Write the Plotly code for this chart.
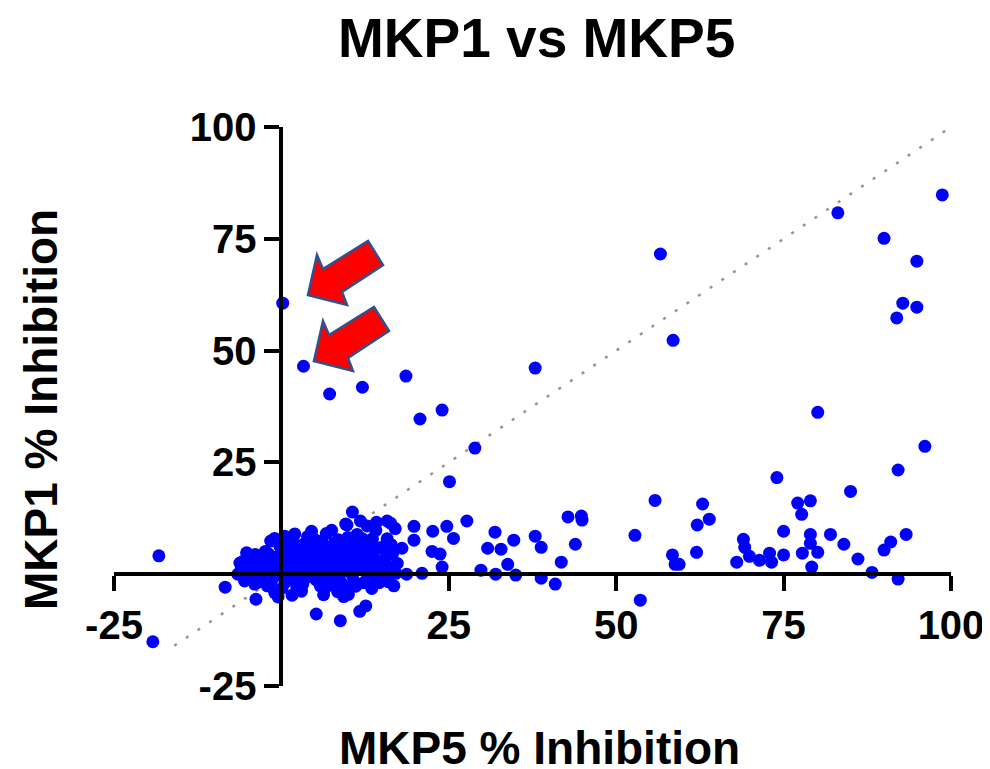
import plotly.graph_objects as go

# ---------------- data ----------------
# outliers / high-inhibition compounds
mkp5_a = [0.2, 3.3, 7.2, 12.1, 18.6, 20.7, 24.0, 25.1, 28.9, 37.9, 56.6, 58.5, 83.1, 98.7, 90.0,
          94.9, 91.9, 92.8, 94.9, 80.1, 96.1, 92.1, 74.0, 85.0, 55.8, -18.3, -19.2, -8.4, -3.8, 53.6]
mkp1_a = [60.6, 46.5, 40.3, 41.8, 44.3, 34.7, 36.7, 20.7, 28.2, 46.1, 71.6, 52.3, 80.8, 84.8, 75.1,
          70.0, 57.3, 60.6, 59.7, 36.2, 28.6, 23.3, 21.6, 18.5, 16.5, 4.1, -15.1, -2.9, -5.6, -5.8]

# MKP5-selective compounds (right, low MKP1)
mkp5_b = [77.1, 79.0, 77.7, 62.9, 63.9, 62.1, 75.0, 79.0, 82.0, 84.0, 93.3, 91.0, 90.0, 62.0, 69.0,
          69.2, 68.0, 69.9, 71.4, 72.9, 73.2, 75.0, 77.8, 79.0, 80.1, 79.2, 86.1, 88.2, 92.1, 59.4]
mkp1_b = [15.9, 16.4, 13.4, 15.7, 12.3, 11.0, 9.6, 8.9, 8.9, 6.7, 8.9, 7.2, 5.4, 4.9, 7.8,
          6.0, 2.7, 4.0, 3.1, 4.7, 2.7, 4.3, 4.7, 6.9, 4.9, 1.6, 3.4, 0.4, -1.1, 2.2]

# mid-range compounds
mkp5_c = [27.7, 19.8, 22.6, 24.7, 25.7, 19.8, 18.0, 22.5, 23.7, 24.0, 18.7, 21.0, 29.8, 31.9, 30.8, 32.8,
          32.0, 34.7, 33.8, 35.0, 37.9, 38.8, 38.8, 40.9, 41.8, 42.8, 44.8, 44.9, 43.9, 52.8, 58.4, 58.8]
mkp1_c = [11.9, 10.7, 9.6, 10.7, 8.0, 7.6, 5.8, 5.1, 4.5, 1.6, 0.0, 0.2, 0.9, 9.4, 5.8, 5.6,
          0.0, 7.6, 2.2, -0.2, 8.5, 6.0, -0.9, -2.2, 2.7, 12.8, 13.0, 12.1, 6.7, 8.7, 4.3, 2.2]

# edges of the inactive cluster
mkp5_d = [-1.6, -1.0, 5.2, 8.8, 11.7, 12.6, 10.6, 9.6, 11.8, 14.2, 16.3, 14.2, 4.5, -5.7, -6.0, 11.1, 10.0]
mkp1_d = [7.4, -4.1, -8.9, -10.4, -8.3, -7.1, 13.9, 11.2, 11.9, 11.6, 11.4, -1.6, 9.6, 2.9, 1.1, -2.7, -4.5]

# dense inactive cluster near the origin
mkp5_e = [-6.2, -5.8, -5.1, -4.7, -4.3, -3.9, -3.5, -3.2, -2.8, -2.4, -2.1, -1.7, -1.3, -0.9, -0.6, -0.2,
          0.1, 0.4, 0.8, 1.1, 1.5, 1.8, 2.2, 2.5, 2.9, 3.2, 3.6, 3.9, 4.3, 4.6, 5.0, 5.3, 5.7, 6.0, 6.4,
          6.7, 7.1, 7.4, 7.8, 8.1, 8.5, 8.8, 9.2, 9.5, 9.9, 10.2, 10.6, 10.9, 11.3, 11.6, 12.0, 12.3,
          12.7, 13.0, 13.4, 13.7, 14.1, 14.4, 14.8, 15.1, 15.5, 15.8, 16.2, 16.6, 17.0, 17.3,
          -4.0, -2.6, -1.1, 0.3, 1.4, 2.0, 2.7, 3.4, 4.1, 4.8, 5.5, 6.2, 6.9, 7.6, 8.3, 9.0, 9.7, 10.4,
          11.1, 11.8, 12.5, 13.2, 13.9, 14.6, 15.3, 16.0,
          1.0, 3.0, 5.0, 7.0, 9.0, 11.0, 8.0, 6.0, 4.0, 2.0, 10.0, 12.0, 0.0, -1.0, 7.5, 9.8, 15.8, 16.8,
          13.5, 12.8, 14.6, 5.8, 3.0, 8.4, 1.6, -0.5]
mkp1_e = [2.5, 0.8, 3.6, -0.9, 1.9, 4.4, -1.8, 0.6, 2.9, 5.1, -2.6, 1.4, 3.8, -0.4, 2.2, 6.1,
          -3.1, 0.9, 4.0, 2.1, -1.2, 7.0, 3.3, 0.3, 5.6, -2.2, 1.8, 8.4, 4.7, -0.6, 2.9, 6.8, 0.5, 3.9, -3.5,
          9.1, 1.6, 5.4, -1.4, 3.2, 7.7, 0.2, 4.5, -2.8, 2.0, 6.3, -0.3, 3.7, 8.9, 1.1, 4.9, -1.9,
          2.6, 7.2, 0.0, 4.1, 9.8, 1.7, 5.9, -0.8, 3.0, 7.9, 1.3, 4.6, 10.2, 2.4,
          -2.2, 4.0, 0.2, 3.0, 5.0, -0.5, 1.6, 3.7, 6.1, 1.0, 4.4, 2.0, -0.9, 3.6, 5.8, 2.5, 0.8, 4.8,
          2.9, 6.5, 0.6, 3.4, 5.7, 2.8, 6.2, -1.7,
          1.0, 2.5, 5.2, 4.2, 6.9, 5.3, 1.9, 7.4, 0.0, 9.0, 1.4, 8.0, 4.8, 8.0, 9.8, 11.0, 11.9, -2.6,
          -3.2, 10.8, -1.9, -2.6, -3.8, -3.9, -4.7, -5.1]

# further overlapping points inside the dense cluster
mkp5_f = [-5.5, -4.9, -4.4, -3.7, -3.0, -2.3, -1.9, -1.5, -0.8, -0.3, 0.6, 0.9, 1.3, 1.9, 2.4, 2.8,
          3.3, 3.7, 4.4, 4.9, 5.2, 5.9, 6.5, 6.8, 7.3, 7.9, 8.6, 8.9, 9.4, 9.9, 10.3, 10.8, 11.4, 11.9,
          12.4, 12.9, 13.6, 14.0, 14.9, 15.6, 16.4, 17.1, -5.2, -6.5, 0.5, 6.3, 9.3, 2.3]
mkp1_f = [-1.5, 2.3, 0.2, 3.0, -0.8, 1.9, 4.5, -1.6, 3.1, 0.4, -1.8, 6.3, 3.6, 1.2, 4.4, -1.0,
          6.7, 0.8, 2.3, 7.8, -1.3, 5.6, 1.0, 6.0, -2.4, 7.0, 2.9, -1.8, 5.4, 8.2, 2.5, -1.5, 6.9, 3.3,
          5.8, 1.6, 7.9, 3.2, 0.9, 4.8, 6.6, 0.2, 4.8, 0.0, 8.5, -4.6, -5.0, -3.0]

identity_line = [-16, 100]
x_ticks = [-25, 25, 50, 75, 100]
y_ticks = [-25, 25, 50, 75, 100]
axis_range = [-25, 100]

title_text = "MKP1 vs MKP5"
x_title = "MKP5 % Inhibition"
y_title = "MKP1 % Inhibition"

mkp5 = mkp5_a + mkp5_b + mkp5_c + mkp5_d + mkp5_e + mkp5_f
mkp1 = mkp1_a + mkp1_b + mkp1_c + mkp1_d + mkp1_e + mkp1_f
assert len(mkp5) == len(mkp1)

# ---------------- layout geometry ----------------
OFF = 8  # default page body margin offsets the figure
W, H = 990 - OFF, 769 - OFF
L, T = 114 - OFF, 127 - OFF
PW, PH = 951 - 114, 686 - 127
R, B = W - L - PW, H - T - PH
FONT = "Liberation Sans, Arial, Helvetica, sans-serif"


def to_paper(px, py):
    """page pixel -> paper fraction"""
    fx, fy = px - OFF, py - OFF
    return (fx - L) / PW, (H - B - fy) / PH


fig = go.Figure()
fig.add_trace(go.Scatter(
    x=identity_line, y=identity_line, mode="lines",
    line=dict(color="#959595", width=2.5, dash="3px,11px"),
    hoverinfo="skip", showlegend=False, cliponaxis=False))
fig.add_trace(go.Scatter(
    x=mkp5, y=mkp1, mode="markers",
    marker=dict(color="#0000FF", size=13, line=dict(width=0)),
    showlegend=False, cliponaxis=False))

zero_frac = (0 - axis_range[0]) / (axis_range[1] - axis_range[0])
axis_common = dict(
    range=axis_range, showgrid=False, zeroline=False, showline=True, automargin=False,
    linecolor="black", linewidth=4, ticks="outside", ticklen=15, tickwidth=4,
    tickcolor="black", anchor="free", position=zero_frac,
    tickfont=dict(family=FONT, size=40, color="black", weight="bold"),
)
fig.update_xaxes(tickvals=x_ticks, ticktext=[str(v) for v in x_ticks], **axis_common)
fig.update_yaxes(tickvals=y_ticks, ticktext=[str(v) for v in y_ticks], **axis_common)

# block arrows (decorations, page-pixel geometry)
arrow_px = [(308, 295), (317, 255), (323, 269), (368, 241), (383, 265), (342, 292), (347, 305)]
shapes = []
for dx, dy in [(0, 0), (6, 66)]:
    pts = [to_paper(x + dx, y + dy) for x, y in arrow_px]
    path = "M " + " L ".join(f"{px:.4f},{py:.4f}" for px, py in pts) + " Z"
    shapes.append(dict(type="path", xref="paper", yref="paper", path=path,
                       fillcolor="#FF0000", line=dict(color="#2F528F", width=2.5)))

tx, ty = to_paper(536, 38)
xx, xy = to_paper(539, 748)
yx, yy = to_paper(41, 410)
annotations = [
    dict(text=title_text, x=tx, y=ty, xref="paper", yref="paper", showarrow=False,
         xanchor="center", yanchor="middle",
         font=dict(family=FONT, size=55, color="black", weight="bold")),
    dict(text=x_title, x=xx, y=xy, xref="paper", yref="paper", showarrow=False,
         xanchor="center", yanchor="middle",
         font=dict(family=FONT, size=46, color="black", weight="bold")),
    dict(text=y_title, x=yx, y=yy, xref="paper", yref="paper", showarrow=False,
         xanchor="center", yanchor="middle", textangle=-90,
         font=dict(family=FONT, size=46, color="black", weight="bold")),
]

fig.update_layout(
    width=W, height=H, autosize=False,
    margin=dict(l=L, r=R, t=T, b=B, pad=0, autoexpand=False),
    paper_bgcolor="white", plot_bgcolor="white",
    shapes=shapes, annotations=annotations, showlegend=False,
)

fig.write_html("out.html")
